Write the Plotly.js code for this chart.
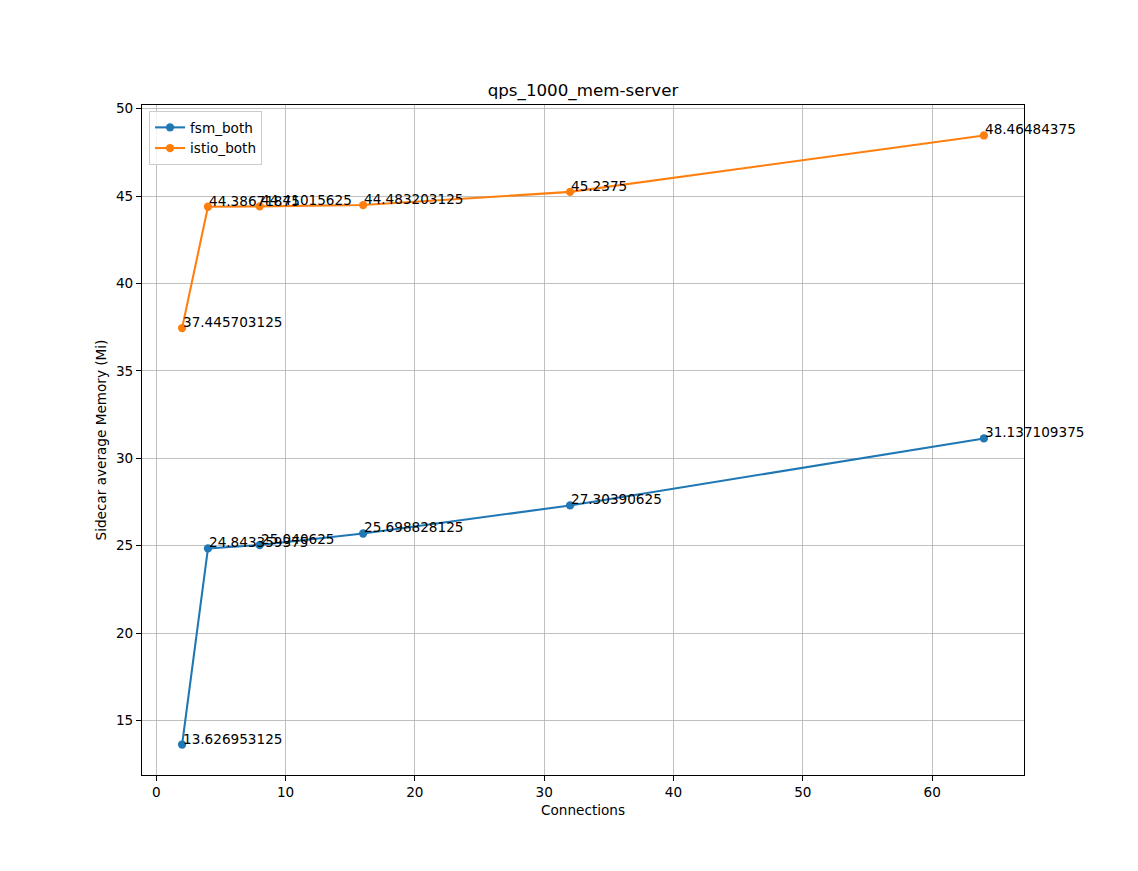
<!DOCTYPE html>
<html>
<head>
<meta charset="utf-8">
<script src="https://cdn.plot.ly/plotly-3.0.1.min.js"></script>
<style>html,body{margin:0;padding:0;background:#fff;}#chart{width:1138px;height:871px;}</style>
</head>
<body>
<div id="chart"></div>
<script>
const connections = [2, 4, 8, 16, 32, 64];
const fsmBoth = [13.626953125, 24.843359375, 25.040625, 25.698828125, 27.30390625, 31.137109375];
const istioBoth = [37.445703125, 44.38671875, 44.41015625, 44.483203125, 45.2375, 48.46484375];
const fsmLabels = ["13.626953125", "24.843359375", "25.040625", "25.698828125", "27.30390625", "31.137109375"];
const istioLabels = ["37.445703125", "44.38671875", "44.41015625", "44.483203125", "45.2375", "48.46484375"];
const xTicks = [0, 10, 20, 30, 40, 50, 60];
const yTicks = [15, 20, 25, 30, 35, 40, 45, 50];

const font = "DejaVu Sans, sans-serif";
const blue = "#1f77b4", orange = "#ff7f0e";

function trace(name, y, color) {
  return {x: connections, y: y, name: name, type: "scatter", mode: "lines+markers",
    line: {color: color, width: 2.08}, marker: {color: color, size: 8.3}};
}
const annotations = [];
function addLabels(y, labels) {
  y.forEach((v, i) => annotations.push({
    x: connections[i], y: v, xref: "x", yref: "y", text: labels[i], showarrow: false,
    xanchor: "left", yanchor: "bottom", xshift: -1, yshift: -4,
    font: {family: font, size: 13.6, color: "#000"}
  }));
}
addLabels(fsmBoth, fsmLabels);
addLabels(istioBoth, istioLabels);

const axisCommon = {
  showgrid: true, gridcolor: "#b0b0b0", gridwidth: 0.8, zeroline: false,
  showline: true, linecolor: "#000", linewidth: 1, mirror: true,
  ticks: "outside", ticklen: 5, tickwidth: 1, tickcolor: "#000",
  tickfont: {family: font, size: 13.6, color: "#000"}
};

const layout = {
  width: 1138, height: 871,
  margin: {l: 142, r: 114, t: 105, b: 96},
  paper_bgcolor: "#fff", plot_bgcolor: "#fff",
  font: {family: font, color: "#000"},
  title: {text: "qps_1000_mem-server", font: {family: font, size: 16.7, color: "#000"},
    x: 0.5, xref: "paper", y: 1, yref: "paper", yanchor: "bottom", pad: {b: 9}},
  xaxis: Object.assign({}, axisCommon, {range: [-1.1, 67.1], tickvals: xTicks,
    ticktext: xTicks.map(String),
    title: {text: "Connections", font: {family: font, size: 13.6, color: "#000"}, standoff: 6}}),
  yaxis: Object.assign({}, axisCommon, {range: [11.885, 50.207], tickvals: yTicks,
    ticktext: yTicks.map(String),
    title: {text: "Sidecar average Memory (Mi)", font: {family: font, size: 13.6, color: "#000"}, standoff: 6}}),
  showlegend: true,
  legend: {x: 0.008, y: 0.991, xanchor: "left", yanchor: "top", bgcolor: "rgba(255,255,255,0.8)",
    bordercolor: "#cccccc", borderwidth: 1, font: {family: font, size: 13.6, color: "#000"},
    tracegroupgap: 0, itemwidth: 30},
  annotations: annotations
};

Plotly.newPlot("chart", [trace("fsm_both", fsmBoth, blue), trace("istio_both", istioBoth, orange)], layout,
  {displayModeBar: false, staticPlot: true});
</script>
</body>
</html>
